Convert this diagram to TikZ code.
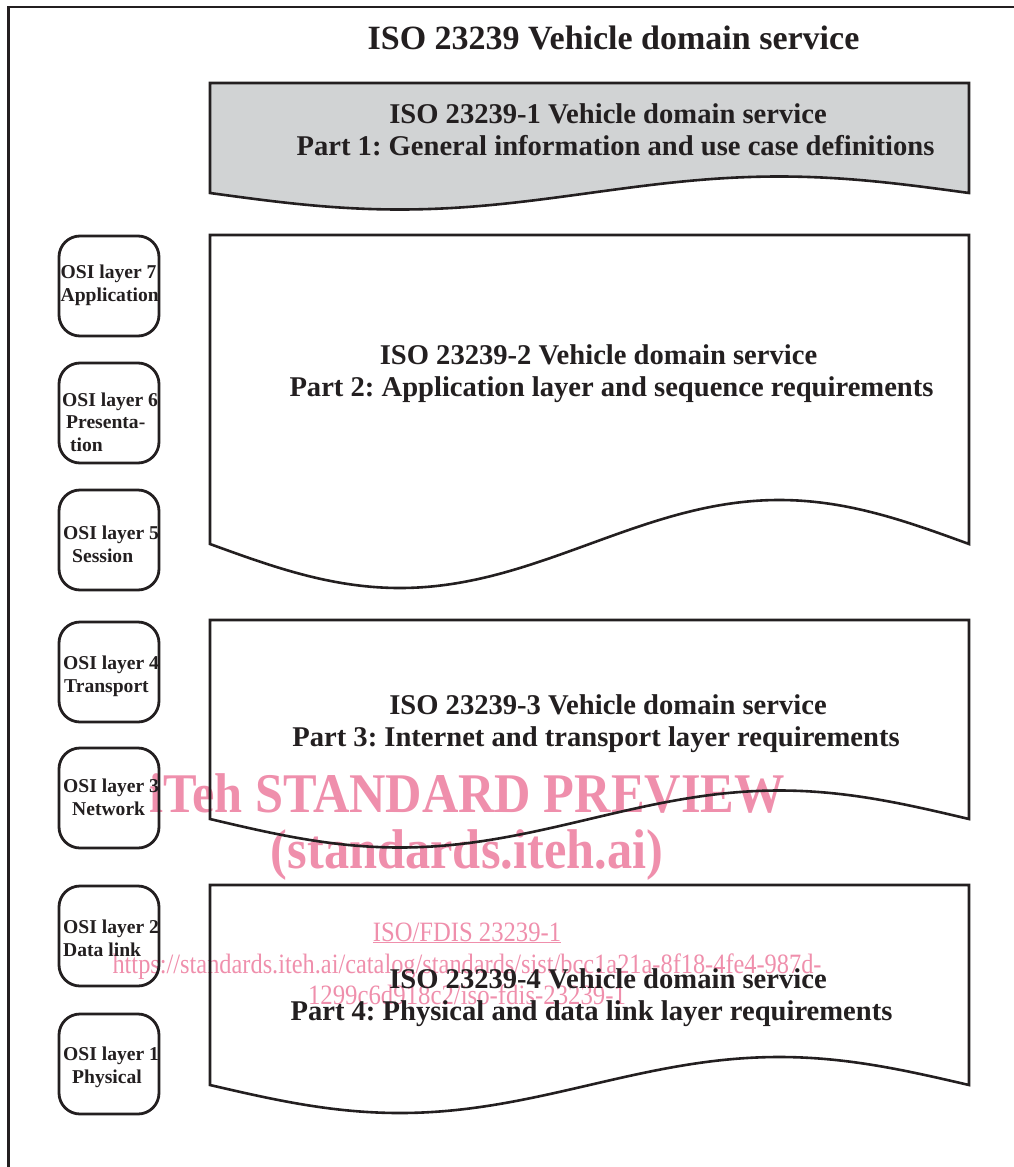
\documentclass[tikz,border=0pt]{standalone}
\usepackage{fontspec}
\setmainfont{Liberation Serif}
\usepackage{graphicx}
\frenchspacing
\definecolor{ink}{HTML}{231F20}
\definecolor{greyfill}{HTML}{D1D3D4}
\definecolor{wmpink}{RGB}{239,143,172}
\tikzset{
  outline/.style={draw=ink, line width=2.6pt, line join=miter},
  osibox/.style={draw=ink, line width=2.8pt, rounded corners=21pt, minimum width=100pt, minimum height=100pt, inner sep=0pt},
  ositext/.style={anchor=west, inner sep=0pt, align=left, text=ink, font=\fontsize{19.6}{22.7}\selectfont\bfseries},
  bodytext/.style={anchor=base, inner sep=0pt, text=ink, font=\fontsize{28.6}{32}\selectfont\bfseries},
  bigwm/.style={anchor=base, inner sep=0pt, text=wmpink, font=\fontsize{56}{60}\selectfont\bfseries},
  smallwm/.style={anchor=base, inner sep=0pt, text=wmpink, font=\fontsize{28}{30}\selectfont}
}
\begin{document}
\begin{tikzpicture}[x=1pt,y=-1pt]
\useasboundingbox (0,0) rectangle (1014,1167);
% outer frame (cropped)
\draw[ink, line width=2.7pt] (8.5,1170) -- (8.5,7) -- (1017,7);
% grey fill of part 1
\fill[greyfill] (210,83) -- (969,83) -- (969,193) sin (779.25,176.5) cos (589.5,193) sin (399.75,209.5) cos (210,193) -- cycle;
% watermark (under the outlines and text)
\node[bigwm] (wm1) at (467,812) {\scalebox{0.9}[1]{iTeh STANDARD PREVIEW}};
\node[bigwm] (wm2) at (467,868) {\scalebox{0.9}[1]{(standards.iteh.ai)}};
\node[smallwm] (wm3) at (467,941) {\scalebox{0.88}[1]{\underline{ISO/FDIS 23239-1}}};
\node[smallwm] (wm4) at (467,973) {\scalebox{0.87}[1]{https://standards.iteh.ai/catalog/standards/sist/bcc1a21a-8f18-4fe4-987d-}};
\node[smallwm] (wm5) at (467,1004) {\scalebox{0.885}[1]{1299c6d918c2/iso-fdis-23239-1}};
% document shapes
\draw[outline] (210,83) -- (969,83) -- (969,193) sin (779.25,176.5) cos (589.5,193) sin (399.75,209.5) cos (210,193) -- cycle;
\draw[outline] (210,235) -- (969,235) -- (969,544) sin (779.25,500) cos (589.5,544) sin (399.75,588) cos (210,544) -- cycle;
\draw[outline] (210,620) -- (969,620) -- (969,819) sin (779.25,790.5) cos (589.5,819) sin (399.75,847.5) cos (210,819) -- cycle;
\draw[outline] (210,885) -- (969,885) -- (969,1085) sin (779.25,1057) cos (589.5,1085) sin (399.75,1113) cos (210,1085) -- cycle;
% title
\node[anchor=base, inner sep=0pt, text=ink, font=\fontsize{34}{38}\selectfont\bfseries] (title) at (613.5,49) {ISO 23239 Vehicle domain service};
% part texts
\node[bodytext] (s1a) at (608,123.5) {ISO 23239-1 Vehicle domain service};
\node[bodytext] (s1b) at (615.5,155.5) {Part 1: General information and use case definitions};
\node[bodytext] (s2a) at (598.5,364.5) {ISO 23239-2 Vehicle domain service};
\node[bodytext] (s2b) at (611.5,396.5) {Part 2: Application layer and sequence requirements};
\node[bodytext] (s3a) at (608,714.5) {ISO 23239-3 Vehicle domain service};
\node[bodytext] (s3b) at (596,746.5) {Part 3: Internet and transport layer requirements};
\node[bodytext] (s4a) at (608,988.5) {ISO 23239-4 Vehicle domain service};
\node[bodytext] (s4b) at (591.5,1020.5) {Part 4: Physical and data link layer requirements};
% OSI boxes
\node[osibox] (osi7) at (109,286) {};
\node[osibox] (osi6) at (109,413) {};
\node[osibox] (osi5) at (109,540) {};
\node[osibox] (osi4) at (109,672) {};
\node[osibox] (osi3) at (109,798) {};
\node[osibox] (osi2) at (109,936) {};
\node[osibox] (osi1) at (109,1064) {};
\node[ositext] (osi7t) at (60.5,285.5) {OSI layer 7\\Application};
\node[ositext] (osi6t) at (62,422) {OSI layer 6\\\hspace*{4pt}Presenta-\\\hspace*{8pt}tion};
\node[ositext] (osi5t) at (63,544) {OSI layer 5\\\hspace*{9pt}Session};
\node[ositext] (osi4t) at (63,676) {OSI layer 4\\\hspace*{1pt}Transport};
\node[ositext] (osi3t) at (63,797) {OSI layer 3\\\hspace*{9pt}Network};
\node[ositext] (osi2t) at (63,938) {OSI layer 2\\Data link};
\node[ositext] (osi1t) at (63,1067) {OSI layer 1\\\hspace*{9pt}Physical};
\end{tikzpicture}
\end{document}
